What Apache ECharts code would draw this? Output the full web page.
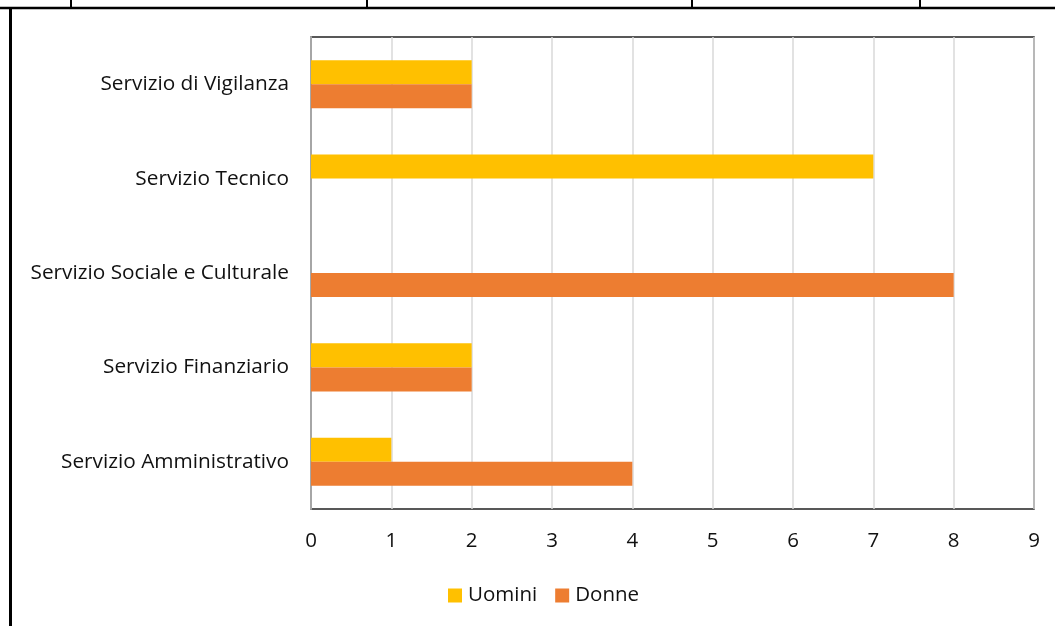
<!DOCTYPE html>
<html>
<head>
<meta charset="utf-8">
<script src="https://cdn.jsdelivr.net/npm/echarts@6/dist/echarts.min.js"></script>
<style>
html, body { margin: 0; padding: 0; background: #fff; }
#main { width: 1055px; height: 626px; }
</style>
</head>
<body>
<div id="main"></div>
<script>
// categories from bottom to top
var categories = ['Servizio Amministrativo', 'Servizio Finanziario', 'Servizio Sociale e Culturale', 'Servizio Tecnico', 'Servizio di Vigilanza'];
var uomini = [1, 2, 0, 7, 2];
var donne = [4, 2, 8, 0, 2];
var xTicks = [0, 1, 2, 3, 4, 5, 6, 7, 8, 9];

var font = '"Open Sans", sans-serif';
var myChart = echarts.init(document.getElementById('main'));

var option = {
    animation: false,
    textStyle: { fontFamily: font },
    grid: {
        left: 311,
        right: 21,
        top: 37,
        bottom: 117,
        show: true,
        borderColor: '#222',
        borderWidth: 1.5
    },
    legend: {
        data: ['Uomini', 'Donne'],
        bottom: 15,
        left: 443,
        itemWidth: 14,
        itemHeight: 14,
        itemGap: 18,
        icon: 'rect',
        textStyle: { fontSize: 20.5, color: '#111', fontFamily: font, padding: [0, 0, 0, 1] }
    },
    xAxis: {
        type: 'value',
        min: xTicks[0],
        max: xTicks[xTicks.length - 1],
        interval: 1,
        axisLine: { show: false },
        axisTick: { show: false },
        axisLabel: { fontSize: 20.5, color: '#111', margin: 22, fontFamily: font },
        splitLine: { lineStyle: { color: '#d9d9d9', width: 1.5 } }
    },
    yAxis: {
        type: 'category',
        data: categories,
        axisLine: { show: true, lineStyle: { color: '#a6a6a6', width: 2 } },
        axisTick: { show: false },
        axisLabel: { fontSize: 20.8, color: '#111', margin: 22, fontFamily: font, padding: [3, 0, 0, 0] }
    },
    // first series is drawn on top within each group
    series: [{
        name: 'Uomini',
        type: 'bar',
        data: uomini,
        barGap: '0%',
        barCategoryGap: '49%',
        itemStyle: { color: '#FFC000' }
    }, {
        name: 'Donne',
        type: 'bar',
        data: donne,
        itemStyle: { color: '#ED7D31' }
    }],
    graphic: [
        { type: 'line', shape: { x1: 0, y1: 8, x2: 1055, y2: 8 }, style: { stroke: '#000', lineWidth: 2.5 } },
        { type: 'line', shape: { x1: 71, y1: 0, x2: 71, y2: 8 }, style: { stroke: '#000', lineWidth: 2 } },
        { type: 'line', shape: { x1: 367, y1: 0, x2: 367, y2: 8 }, style: { stroke: '#000', lineWidth: 2 } },
        { type: 'line', shape: { x1: 692, y1: 0, x2: 692, y2: 8 }, style: { stroke: '#000', lineWidth: 2 } },
        { type: 'line', shape: { x1: 920, y1: 0, x2: 920, y2: 8 }, style: { stroke: '#000', lineWidth: 2 } },
        { type: 'line', shape: { x1: 10.5, y1: 8, x2: 10.5, y2: 626 }, style: { stroke: '#000', lineWidth: 3 } }
    ]
};
myChart.setOption(option);
</script>
</body>
</html>
